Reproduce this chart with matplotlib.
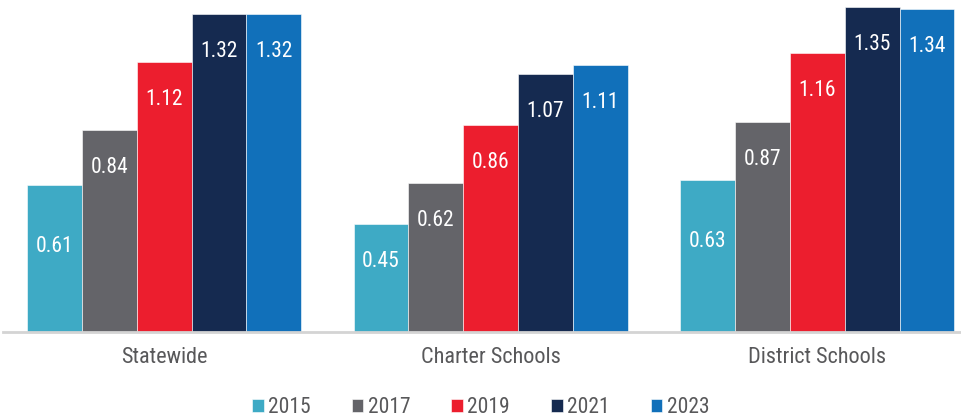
import numpy as np
import matplotlib.pyplot as plt

# Данные
categories = ['Statewide', 'Charter Schools', 'District Schools']
years = ['2015', '2017', '2019', '2021', '2023']
values = {
    '2015': [0.61, 0.45, 0.63],
    '2017': [0.84, 0.62, 0.87],
    '2019': [1.12, 0.86, 1.16],
    '2021': [1.32, 1.07, 1.35],
    '2023': [1.32, 1.11, 1.34],
}
colors = ['#3eaac5', '#646469', '#ec1e2e', '#152a50', '#1170ba']

plt.rcParams['font.family'] = ['Roboto Condensed', 'Liberation Sans', 'DejaVu Sans']

fig = plt.figure(figsize=(9.61, 4.19), dpi=100)
ax = fig.add_axes([0.003, 0.2076, 0.997, 0.7924])

x = np.arange(len(categories))
w = 0.168
for i, y in enumerate(years):
    pos = x + (i - 2) * w
    bars = ax.bar(pos, values[y], width=w, color=colors[i], label=y,
                  edgecolor='white', linewidth=0.4)
    for j, b in enumerate(bars):
        v = values[y][j]
        # у первых столбиков подпись опущена ниже
        off = -44 if (i == 0 and j != 1) else -27
        ax.annotate(f'{v:.2f}', (b.get_x() + b.get_width() / 2, v),
                    xytext=(0, off), textcoords='offset points',
                    ha='center', va='center', color='white', fontsize=15.5)

ax.set_xlim(-0.494, 2.44)
ax.set_ylim(0, 1.378)
ax.set_yticks([])
ax.set_xticks(x)
ax.set_xticklabels(categories, fontsize=16, color='#58585a')
ax.tick_params(axis='x', length=0, pad=11)
for s in ['top', 'right', 'left']:
    ax.spines[s].set_visible(False)
ax.spines['bottom'].set_color('#d4d4d4')
ax.spines['bottom'].set_linewidth(2)

fig.legend(loc='center', bbox_to_anchor=(0.5, 0.028), ncol=5, frameon=False,
           fontsize=15.5, handlelength=0.55, handleheight=0.55, handletextpad=0.2,
           columnspacing=1.9, labelcolor='#58585a')

plt.savefig('out.png', dpi=100)
